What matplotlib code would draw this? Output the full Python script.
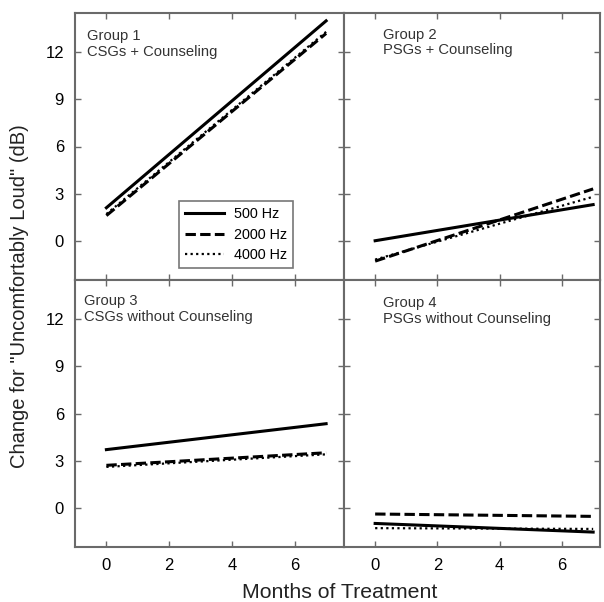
import matplotlib
matplotlib.use('Agg')
import matplotlib.pyplot as plt

plt.rcParams['font.family'] = ['Liberation Sans', 'DejaVu Sans']

# months of treatment (regression line end points)
months = [0, 7]

# change for "uncomfortably loud" (dB), one pair per group and frequency
g1_500 = [2.1, 14.0]
g1_2000 = [1.6, 13.2]
g1_4000 = [1.7, 13.3]

g2_500 = [0.0, 2.3]
g2_2000 = [-1.3, 3.3]
g2_4000 = [-1.2, 2.8]

g3_500 = [3.7, 5.35]
g3_2000 = [2.7, 3.5]
g3_4000 = [2.6, 3.4]

g4_500 = [-1.0, -1.55]
g4_2000 = [-0.4, -0.55]
g4_4000 = [-1.3, -1.35]

titles = ['Group 1\nCSGs + Counseling', 'Group 2\nPSGs + Counseling',
          'Group 3\nCSGs without Counseling', 'Group 4\nPSGs without Counseling']
freq_labels = ['500 Hz', '2000 Hz', '4000 Hz']
groups = [(g1_500, g1_2000, g1_4000), (g2_500, g2_2000, g2_4000),
          (g3_500, g3_2000, g3_4000), (g4_500, g4_2000, g4_4000)]

fig = plt.figure(figsize=(6.04, 6.02), dpi=100)

W, H = 604, 602
boxes = [(75, 13, 344, 280), (344, 13, 600, 280),
         (75, 280, 344, 547), (344, 280, 600, 547)]
xmax = [7.57, 7.22, 7.57, 7.22]
text_pos = [(0.045, 0.94), (0.152, 0.945), (0.033, 0.947), (0.152, 0.94)]

styles = [dict(ls='-', lw=2.2), dict(ls=(0, (3.4, 1.4)), lw=2.2), dict(ls=(0, (1, 1.5)), lw=1.6)]

gray = '#6a6a6a'
for i, (x0, y0, x1, y1) in enumerate(boxes):
    ax = fig.add_axes([x0 / W, 1 - y1 / H, (x1 - x0) / W, (y1 - y0) / H])
    for vals, st, lab in zip(groups[i], styles, freq_labels):
        ax.plot(months, vals, color='black', label=lab, **st)
    ax.set_xlim(-1, xmax[i])
    ax.set_ylim(-2.5, 14.5)
    ax.set_xticks([0, 2, 4, 6])
    ax.set_yticks([0, 3, 6, 9, 12])
    ax.tick_params(direction='in', top=True, right=True, length=4, width=1,
                   color=gray, labelsize=12, pad=8)
    if i % 2 == 1:
        ax.tick_params(labelleft=False)
    if i < 2:
        ax.tick_params(labelbottom=False)
    for sp in ax.spines.values():
        sp.set_color(gray)
        sp.set_linewidth(1.5)
    ax.text(text_pos[i][0], text_pos[i][1], titles[i], transform=ax.transAxes,
            ha='left', va='top', fontsize=10.6, color='#333333', linespacing=1.15)
    if i == 0:
        leg = ax.legend(loc='lower left', bbox_to_anchor=(0.387, 0.045),
                        fontsize=10.4, frameon=True, fancybox=False,
                        handlelength=2.7, handletextpad=0.7, borderpad=0.4,
                        labelspacing=0.45, borderaxespad=0)
        leg.get_frame().set_edgecolor('#555555')
        leg.get_frame().set_linewidth(1.2)

fig.text(20 / W, 1 - 296 / H, 'Change for "Uncomfortably Loud" (dB)', rotation=90,
         ha='center', va='center', fontsize=14.5, color='#222222')
fig.text(340 / W, 1 - 592 / H, 'Months of Treatment', ha='center', va='center',
         fontsize=15.3, color='#222222')

fig.savefig('out.png', dpi=100)
